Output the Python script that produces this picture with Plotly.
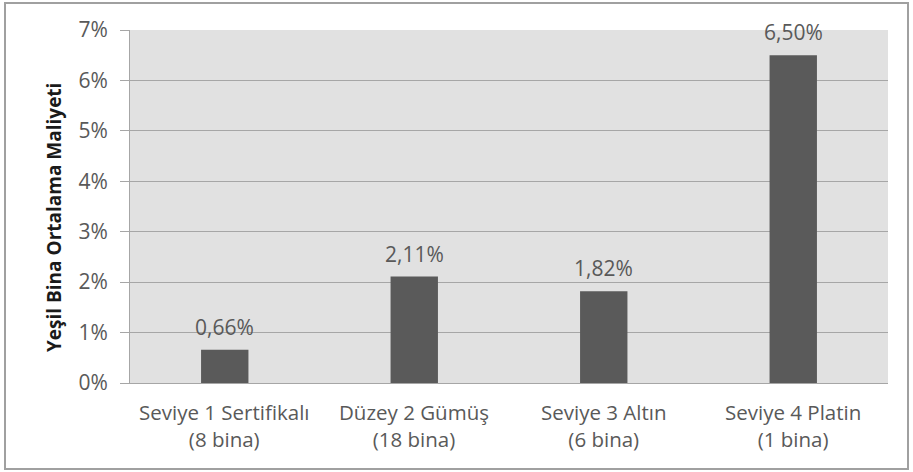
import plotly.graph_objects as go

# Data
line1 = ["Seviye 1 Sertifikalı", "Düzey 2 Gümüş", "Seviye 3 Altın", "Seviye 4 Platin"]
line2 = ["(8 bina)", "(18 bina)", "(6 bina)", "(1 bina)"]
costs = [0.0066, 0.0211, 0.0182, 0.0650]
y_ticks = [0, 0.01, 0.02, 0.03, 0.04, 0.05, 0.06, 0.07]
y_title = "Yeşil Bina Ortalama Maliyeti"

W, H = 913, 472
L, R, T, B = 130, 25, 30, 89
pw, ph = W - L - R, H - T - B

TXT = "#595959"
FONT = "Open Sans"
FS = 21

fig = go.Figure(go.Bar(
    x=line1, y=costs,
    marker=dict(color="#5a5a5a", line=dict(width=0)),
    width=0.25,
    hoverinfo="skip",
))

annotations = []
# value labels above bars
for c, v in zip(line1, costs):
    annotations.append(dict(
        x=c, y=v, xref="x", yref="y", yanchor="bottom", yshift=7,
        text=f"{v * 100:.2f}%".replace(".", ","), showarrow=False,
        font=dict(family=FONT, size=FS, color=TXT),
    ))
# two-line category labels
for c, a, b in zip(line1, line1, line2):
    annotations.append(dict(
        x=c, y=0, xref="x", yref="y", yanchor="middle", yshift=-42,
        text=f"{a}<br>{b}", showarrow=False, borderpad=0,
        font=dict(family=FONT, size=20.5, color=TXT),
    ))
# y-axis title
annotations.append(dict(
    x=(54 - L) / pw, y=(H - B - 218) / ph, xref="paper", yref="paper",
    xanchor="center", yanchor="middle",
    text=f"<b>{y_title}</b>", textangle=-90, showarrow=False,
    font=dict(family=FONT, size=19, color="#1a1a1a"),
))

# outer frame
frame = dict(
    type="rect", xref="paper", yref="paper",
    x0=(5 - L) / pw, x1=(908 - L) / pw,
    y0=(H - B - 469) / ph, y1=(H - B - 3) / ph,
    line=dict(color="#a0a0a0", width=2), fillcolor="rgba(0,0,0,0)",
    layer="below",
)

fig.update_layout(
    width=W, height=H,
    margin=dict(l=L, r=R, t=T, b=B),
    paper_bgcolor="white",
    plot_bgcolor="#e1e1e1",
    separators=",.",
    showlegend=False,
    font=dict(family=FONT, color=TXT),
    xaxis=dict(
        showticklabels=False, showgrid=False, ticks="",
        showline=True, linecolor="#a6a6a6", linewidth=1,
        fixedrange=True,
    ),
    yaxis=dict(
        range=[0, 0.07], tickvals=y_ticks, tickformat=".0%",
        showgrid=True, gridcolor="#a6a6a6", gridwidth=1,
        ticks="outside", ticklen=9, tickcolor="#a6a6a6",
        ticklabelstandoff=8,
        showline=True, linecolor="#a6a6a6", linewidth=1,
        zeroline=False,
        tickfont=dict(family=FONT, size=FS, color=TXT),
        fixedrange=True,
    ),
    annotations=annotations,
    shapes=[frame],
)

fig.write_html("out.html")
